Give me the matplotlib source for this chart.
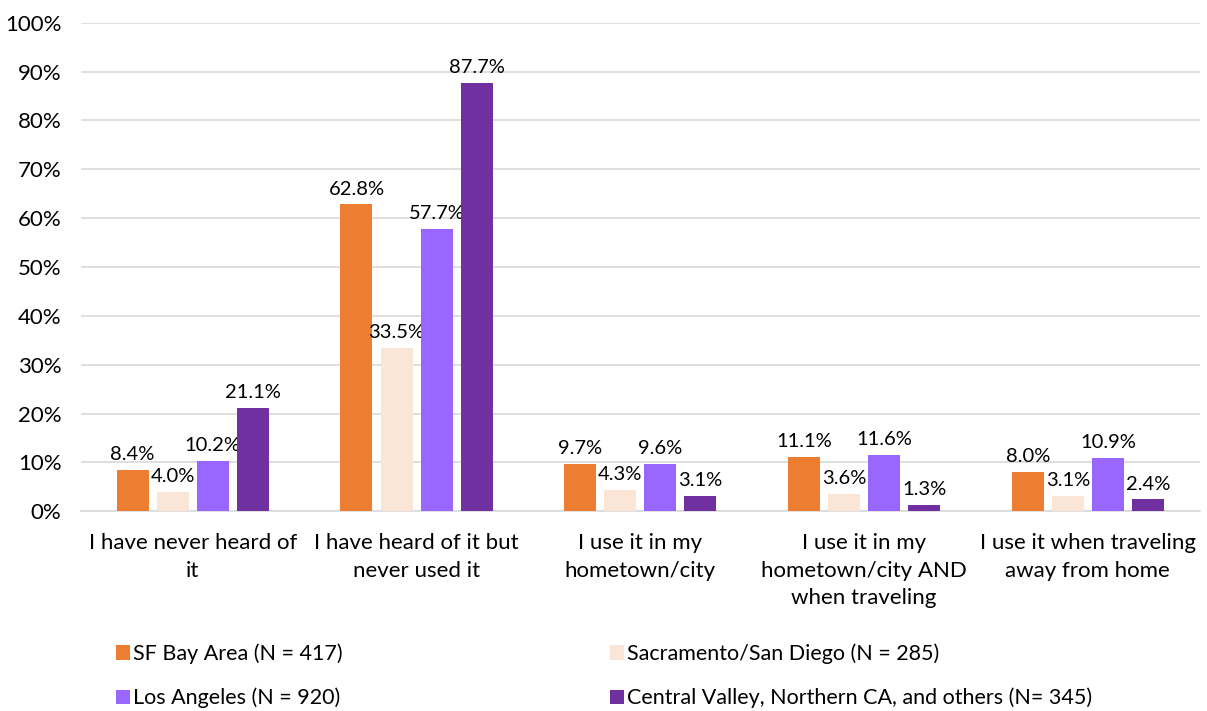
import matplotlib
import numpy as np

matplotlib.use("Agg")
import matplotlib.pyplot as plt
from matplotlib.patches import Patch

plt.rcParams["font.family"] = ["Lato", "DejaVu Sans"]

categories = [
    "I have never heard of\nit",
    "I have heard of it but\nnever used it",
    "I use it in my\nhometown/city",
    "I use it in my\nhometown/city AND\nwhen traveling",
    "I use it when traveling\naway from home",
]
series_names = [
    "SF Bay Area (N = 417)",
    "Sacramento/San Diego (N = 285)",
    "Los Angeles (N = 920)",
    "Central Valley, Northern CA, and others (N= 345)",
]
sf_bay = [8.4, 62.8, 9.7, 11.1, 8.0]
sac_sd = [4.0, 33.5, 4.3, 3.6, 3.1]
los_angeles = [10.2, 57.7, 9.6, 11.6, 10.9]
central_valley = [21.1, 87.7, 3.1, 1.3, 2.4]
colors = ["#ED7D31", "#FBE5D6", "#9966FF", "#7030A0"]

series = [sf_bay, sac_sd, los_angeles, central_valley]

fig = plt.figure(figsize=(12.07, 7.11), dpi=100)
ax = fig.add_axes([0.067, 0.281, 0.927, 0.687])

x = np.arange(len(categories))
width = 0.143
step = 0.179
for i, (vals, col) in enumerate(zip(series, colors)):
    pos = x + (i - 1.5) * step
    bars = ax.bar(pos, vals, width=width, color=col, zorder=3)
    for b, v in zip(bars, vals):
        ax.annotate(f"{v:.1f}%", (b.get_x() + b.get_width() / 2, v),
                    xytext=(0, 5), textcoords="offset points",
                    ha="center", va="bottom", fontsize=14.5, color="#000000")

ax.set_xlim(-0.5, len(categories) - 0.5)
ax.set_ylim(0, 100)
ax.set_yticks(np.arange(0, 101, 10))
ax.set_yticklabels([f"{t}%" for t in range(0, 101, 10)], fontsize=16)
ax.set_xticks(x)
ax.set_xticklabels(categories, fontsize=16, va="top", linespacing=1.45)
ax.tick_params(axis="y", length=0, pad=14)
ax.tick_params(axis="x", length=0, pad=16)
ax.yaxis.grid(True, color="#D9D9D9", linewidth=1.2, zorder=0)
for s in ["top", "right", "left"]:
    ax.spines[s].set_visible(False)
ax.spines["bottom"].set_color("#D9D9D9")
ax.spines["bottom"].set_linewidth(1.2)

handles = [Patch(facecolor=c, edgecolor="none") for c in colors]
order = [0, 2, 1, 3]
fig.legend([handles[i] for i in order], [series_names[i] for i in order],
           loc="upper left", bbox_to_anchor=(0.096, 0.095), ncol=2,
           frameon=False, fontsize=15.5, handlelength=0.65, handleheight=0.65,
           handletextpad=0.15, columnspacing=12.4, labelspacing=1.1,
           borderpad=0, borderaxespad=0)

fig.savefig("out.png", dpi=100)
